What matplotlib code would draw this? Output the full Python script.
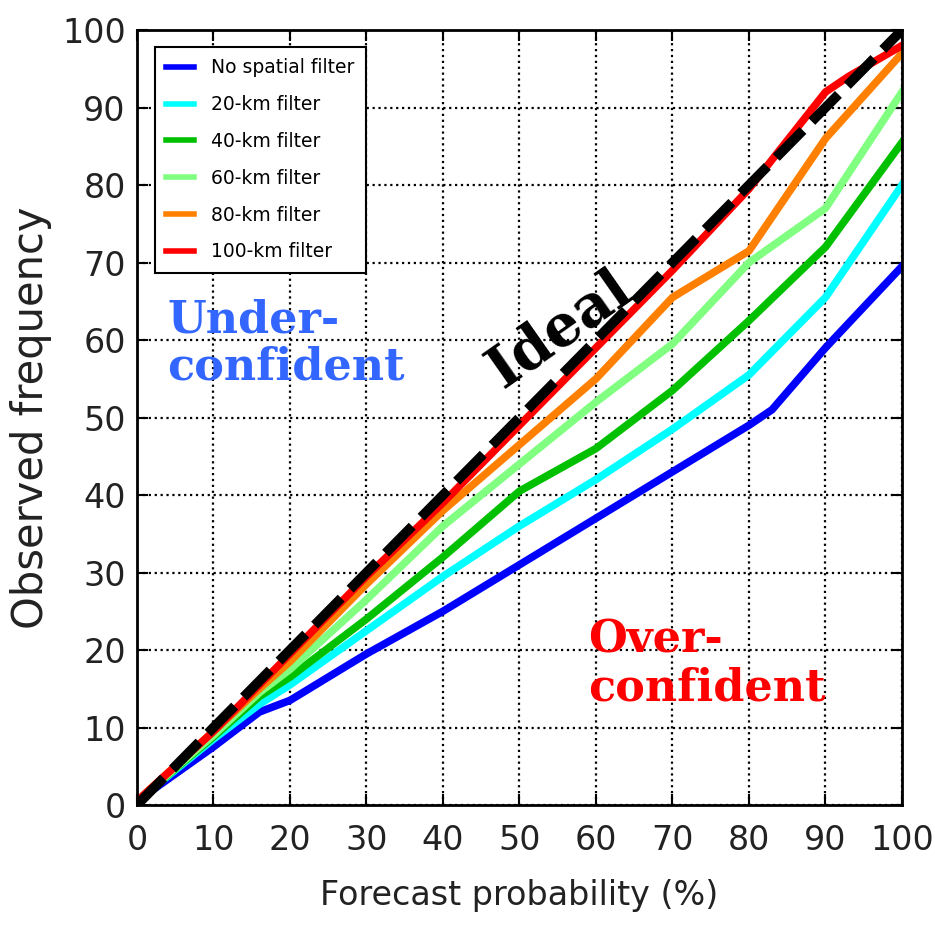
import matplotlib
matplotlib.use("Agg")
import matplotlib.pyplot as plt
import numpy as np

# values
x_blue = [0, 10, 16, 20, 30, 40, 50, 60, 70, 80, 83, 90, 100]
y_blue = [0.5, 7.5, 12, 13.5, 19.5, 25, 31, 37, 43, 49, 51, 59, 69.5]
x_common = [0, 10, 16, 20, 30, 40, 50, 60, 70, 80, 90, 100]
y_cyan = [0.5, 8.5, 13, 15.5, 22.5, 29.5, 36, 42, 48.5, 55.5, 65.5, 80]
y_green = [0.5, 8.8, 14, 16.5, 24, 32, 40.5, 46, 53.5, 62.5, 72, 85.5]
y_lgreen = [0.5, 9, 14.5, 17.5, 26.5, 36, 44, 52, 59.5, 70, 77, 92]
y_orange = [0.5, 9.5, 15, 18.5, 28.5, 38, 46.5, 55, 65.5, 71.5, 86, 97]
x_red = [0, 10, 16, 20, 30, 40, 50, 60, 70, 80, 90, 93, 100]
y_red = [0.5, 9.5, 15.5, 19.5, 29.5, 39, 49, 59, 69, 79.5, 92, 94, 98]
labels = ["No spatial filter", "20-km filter", "40-km filter",
          "60-km filter", "80-km filter", "100-km filter"]
colors = ["#0000ff", "#00ffff", "#00c000", "#80ff80", "#ff8000", "#ff0000"]
ticks = list(range(0, 101, 10))

fig = plt.figure(figsize=(9.35, 9.27), dpi=100)
ax = fig.add_axes([0.1465, 0.1316, 0.8182, 0.836])

series = [(x_blue, y_blue), (x_common, y_cyan), (x_common, y_green),
          (x_common, y_lgreen), (x_common, y_orange), (x_red, y_red)]
for (xs, ys), c, lab in zip(series, colors, labels):
    ax.plot(xs, ys, color=c, lw=5.5, label=lab)
# ideal diagonal
ax.plot([0, 100], [0, 100], color="black", lw=7, ls=(0, (3.9, 1.3)))

ax.set_xlim(0, 100)
ax.set_ylim(0, 100)
ax.set_xticks(ticks)
ax.set_yticks(ticks)
ax.grid(True, color="black", ls=":", lw=1.6)
ax.tick_params(direction="in", length=8, width=1.5, top=True, right=True,
               labelsize=24, colors="black", labelcolor="#222222")
ax.tick_params(axis="x", pad=14)
ax.tick_params(axis="y", pad=8)
for s in ax.spines.values():
    s.set_linewidth(2)

ax.set_xlabel("Forecast probability (%)", fontsize=24, color="#222222")
ax.xaxis.set_label_coords(0.5, -0.095)
ax.set_ylabel("Observed frequency", fontsize=30, color="#222222")
ax.yaxis.set_label_coords(-0.111, 0.5)

leg = ax.legend(loc="upper left", prop={"size": 13.5},
                handlelength=1.5, handletextpad=0.9, borderpad=0.6,
                labelspacing=0.95, fancybox=False, edgecolor="black",
                framealpha=1, borderaxespad=0, bbox_to_anchor=(0.0235, 0.978))
leg.get_frame().set_linewidth(1.5)
for h in leg.get_lines():
    h.set_linewidth(4)

ax.text(4, 59.6, "Under-\nconfident", color="#3366ff", fontsize=32,
        family="DejaVu Serif", weight="bold", linespacing=1.12, va="center")
ax.text(59, 18.2, "Over-\nconfident", color="#ff0000", fontsize=32,
        family="DejaVu Serif", weight="bold", linespacing=1.12, va="center")
ax.text(55.3, 61.3, "Ideal", color="black", fontsize=41, family="DejaVu Serif",
        weight="bold", rotation=35, ha="center", va="center",
        rotation_mode="anchor")

fig.savefig("out.png", dpi=100)
